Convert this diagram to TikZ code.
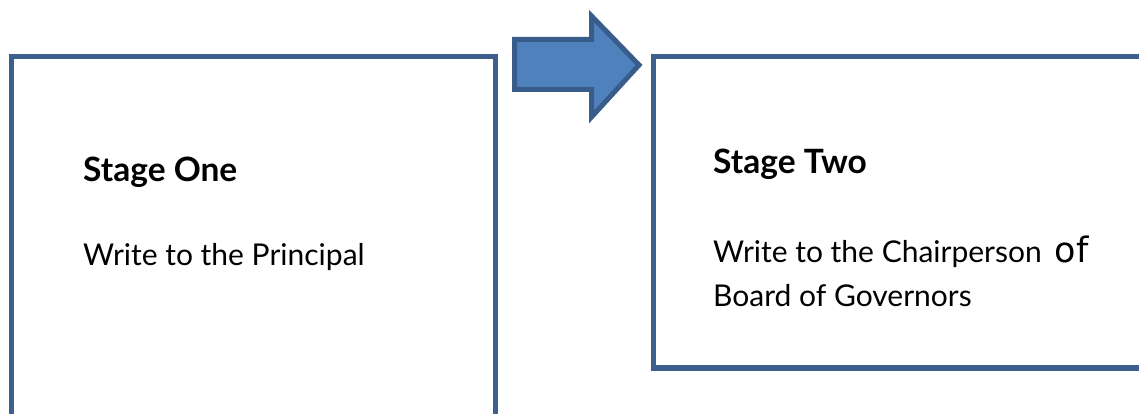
\documentclass[tikz,border=0pt]{standalone}
\usepackage{fontspec}
\setmainfont{Lato}
\newfontfamily\offont{DejaVu Sans}
\definecolor{boxblue}{RGB}{60,95,140}
\definecolor{arrowfill}{RGB}{79,129,189}
\definecolor{arrowline}{RGB}{56,93,138}
\begin{document}
\begin{tikzpicture}[x=1pt,y=-1pt,
  stagebox/.style={draw=boxblue, line width=5.5pt, rectangle, inner sep=0pt},
  txt/.style={anchor=base west, inner sep=0pt, font=\fontsize{30}{36}\selectfont},
  ttl/.style={txt, font=\fontsize{33.5}{40}\selectfont\bfseries}]
\useasboundingbox (0,0) rectangle (1139,414);
\clip (0,0) rectangle (1139,414);
\fill[white] (0,0) rectangle (1139,414);
% boxes
\node[stagebox, minimum width=484pt, minimum height=383.5pt] (one) at (253.5,248.25) {};
\node[stagebox, minimum width=516.5pt, minimum height=311.5pt] (two) at (911.75,212.25) {};
% arrow
\draw[fill=arrowfill, draw=arrowline, line width=5pt, line join=miter]
  (514.5,39.5) -- (591.5,39.5) -- (591.5,16) -- (639,65) -- (591.5,117) -- (591.5,89.5) -- (514.5,89.5) -- cycle;
% texts
\node[ttl] (t1) at (83,182) {Stage One};
\node[txt] (d1) at (83,265) {Write to the Principal};
\node[ttl] (t2) at (713,173) {Stage Two};
\node[txt] (d2) at (713,262) {Write to the Chairperson\hspace{13pt}{\offont\fontsize{35}{40}\selectfont of}};
\node[txt] (d3) at (713,306) {Board of Governors};
\end{tikzpicture}
\end{document}
